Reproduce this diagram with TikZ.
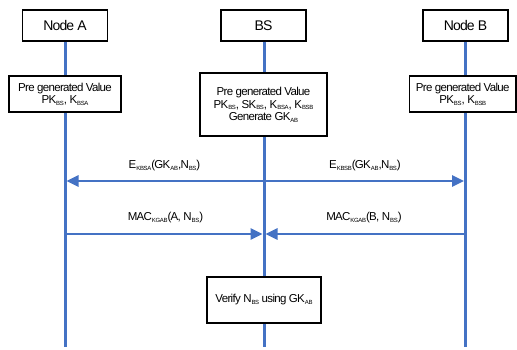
\documentclass[tikz,border=0pt]{standalone}
\usepackage{fontspec}
\setmainfont{Liberation Sans}[LetterSpace=-6]
\usetikzlibrary{arrows.meta}
\definecolor{lblue}{HTML}{4472C4}
\newcommand{\sbs}[1]{\raisebox{-1.2pt}{\fontsize{6}{6}\selectfont #1}}
\begin{document}
\begin{tikzpicture}[x=1pt,y=-1pt,
  box/.style={draw=black, line width=1.3pt, fill=white, inner sep=0pt, align=center},
  head/.style={box, minimum width=85pt, minimum height=31pt, font=\fontsize{14}{16}\selectfont},
  info/.style={box, font=\fontsize{11.5}{12.8}\selectfont},
  life/.style={draw=lblue, line width=3pt},
  tip/.tip={Triangle[length=12pt,width=11pt]},
  msg/.style={draw=lblue, line width=2.6pt, -tip},
  lbl/.style={font=\fontsize{11.5}{13}\selectfont, inner sep=0pt}]
\useasboundingbox (0,0) rectangle (517,349);

% head boxes
\node[head] (nA) at (65,25.5) {Node A};
\node[head] (nBS) at (263.5,25.5) {BS};
\node[head] (nB) at (465.5,25.5) {Node B};

% lifelines
\coordinate (eA) at (65,347);
\coordinate (eBS) at (264,347);
\coordinate (eB) at (465.5,347);
\draw[life] (nA.south -| eA) -- (eA);
\draw[life] (nBS.south -| eBS) -- (eBS);
\draw[life] (nB.south -| eB) -- (eB);

% info boxes
\node[info, minimum width=112pt, minimum height=36pt] (pA) at (65,94)
  {Pre generated Value\\PK\sbs{BS}, K\sbs{BSA}};
\node[info, minimum width=127pt, minimum height=63pt] (pBS) at (263.5,104.5)
  {Pre generated Value\\PK\sbs{BS}, SK\sbs{BS}, K\sbs{BSA}, K\sbs{BSB}\\Generate GK\sbs{AB}};
\node[info, minimum width=106.5pt, minimum height=36pt] (pB) at (462.75,94)
  {Pre generated Value\\PK\sbs{BS}, K\sbs{BSB}};
\node[info, minimum width=114pt, minimum height=46pt] (ver) at (264,300)
  {Verify N\sbs{BS} using GK\sbs{AB}};

% messages
\coordinate (a1) at (66.5,181);
\coordinate (b1) at (464,181);
\draw[msg, tip-tip] (a1) -- (b1);
\coordinate (a2) at (65,234);
\coordinate (s2l) at (262.5,234);
\coordinate (b2) at (465.5,234);
\coordinate (s2r) at (265.5,234);
\draw[msg] (a2) -- (s2l);
\draw[msg] (b2) -- (s2r);

% labels
\node[lbl] (l1) at (164.5,166) {E\sbs{KBSA}(GK\sbs{AB},N\sbs{BS})};
\node[lbl] (l2) at (365,166) {E\sbs{KBSB}(GK\sbs{AB},N\sbs{BS})};
\node[lbl] (l3) at (165.5,218) {MAC\sbs{KGAB}(A, N\sbs{BS})};
\node[lbl] (l4) at (364,218) {MAC\sbs{KGAB}(B, N\sbs{BS})};
\end{tikzpicture}
\end{document}
